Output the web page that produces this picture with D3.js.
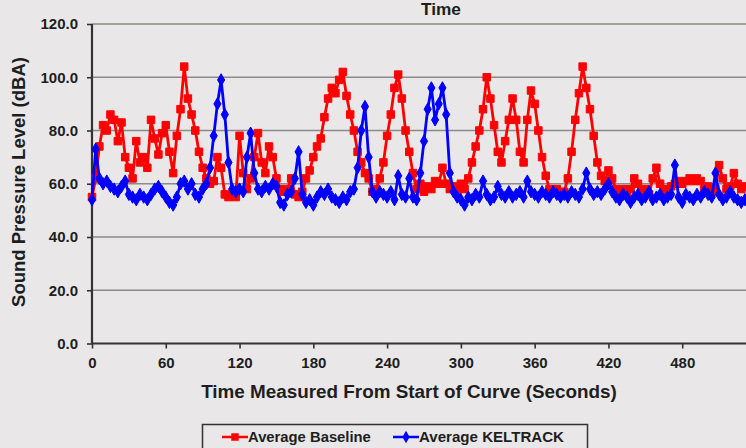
<!DOCTYPE html>
<html>
<head>
<meta charset="utf-8">
<script src="https://cdn.jsdelivr.net/npm/d3@7"></script>
<style>
  html, body { margin: 0; padding: 0; background: #e9e7e7; overflow: hidden; }
  svg { display: block; font-family: "Liberation Sans", Arial, sans-serif; }
</style>
</head>
<body>
<svg id="chart" width="746" height="448"></svg>
<script>
// ---- data (3-second sampling) ----
const timeStep = 3;
const baseline = [
  55,62,74,82,80,86,84,76,83,70,66,62,76,68,70,66,84,77,71,79,
  82,72,64,78,88,104,92,86,80,72,66,62,60,61,70,66,56,55,56,55,
  78,64,58,62,70,79,68,64,74,70,62,58,57,58,62,56,55,57,62,65,
  70,74,77,85,92,96,94,99,102,93,86,80,72,68,64,62,57,58,62,68,
  78,86,96,101,92,80,72,64,58,60,57,59,58,61,60,66,60,58,59,57,
  60,58,62,68,74,80,88,100,92,82,72,68,76,84,92,84,72,68,84,95,
  90,80,70,63,58,57,58,56,57,62,72,84,94,104,96,88,78,68,63,61,
  65,62,58,57,58,56,58,62,60,57,58,56,62,66,60,58,57,59,60,61,
  60,61,62,61,62,61,58,59,57,58,67,62,58,59,64,60,58,59
];
const keltrack = [
  54,73,62,60,61,59,58,57,59,61,56,55,54,56,55,54,56,58,59,57,
  55,53,52,55,60,61,58,60,56,55,58,60,66,78,90,99,86,68,58,57,
  58,57,70,79,64,58,57,59,58,60,59,53,52,56,57,62,72,56,53,54,
  52,55,57,56,58,55,54,53,55,54,57,58,66,80,89,70,57,55,57,56,
  55,57,54,63,56,55,62,55,54,64,76,88,96,84,90,96,86,64,57,55,
  54,52,55,54,56,55,61,56,54,55,59,56,55,57,55,56,57,55,61,57,
  56,55,57,56,55,57,56,55,56,55,57,56,55,58,64,58,56,57,56,58,
  60,57,55,54,56,55,53,55,56,54,55,57,54,55,56,54,55,56,67,55,
  53,56,55,54,56,55,57,56,55,64,56,54,55,57,55,54,53,54
];
const seriesNames = ["Average Baseline", "Average KELTRACK"];
const seriesColors = ["#ff0000", "#0000ff"];
const yTicks = [0, 20, 40, 60, 80, 100, 120];
const xTicks = [0, 60, 120, 180, 240, 300, 360, 420, 480];
const chartTitle = "Time";
const yLabel = "Sound Pressure Level (dBA)";
const xLabel = "Time Measured From Start of Curve (Seconds)";

// ---- layout ----
const svg = d3.select("#chart");
const plotLeft = 92, plotRight = 756, plotTop = 24, plotBottom = 343.5;
const x = d3.scaleLinear().domain([0, 540]).range([plotLeft, plotRight]);
const y = d3.scaleLinear().domain([0, 120]).range([plotBottom, plotTop]);
const textColor = "#1e1e1e";

svg.append("rect").attr("width", 746).attr("height", 448).attr("fill", "#e9e7e7");

function fitWidth(sel, target) {
  const w = sel.node().getComputedTextLength();
  const fs = parseFloat(sel.attr("font-size"));
  sel.attr("font-size", fs * target / w);
}

// title
const t = svg.append("text").attr("x", 441).attr("y", 15)
  .attr("text-anchor", "middle").attr("font-size", 16).attr("font-weight", "bold")
  .attr("fill", textColor).text(chartTitle);
fitWidth(t, 40);

// gridlines
svg.append("g").selectAll("line").data(yTicks.filter(d => d > 0)).join("line")
  .attr("x1", plotLeft).attr("x2", plotRight)
  .attr("y1", d => y(d)).attr("y2", d => y(d))
  .attr("stroke", "#8c8a8a").attr("stroke-width", 1.3);

// axes
const yAxis = d3.axisLeft(y).tickValues(yTicks).tickSize(5).tickFormat(d3.format(".1f"));
const gy = svg.append("g").attr("transform", `translate(${plotLeft},0)`).call(yAxis);
const xAxis = d3.axisBottom(x).tickValues(xTicks).tickSize(5).tickFormat(d3.format("d"));
const gx = svg.append("g").attr("transform", `translate(0,${plotBottom})`).call(xAxis);
[gx, gy].forEach(g => {
  g.attr("font-size", null).attr("font-family", null);
  g.select(".domain").attr("stroke", "#333").attr("stroke-width", 2.2);
  g.selectAll(".tick line").attr("stroke", "#333").attr("stroke-width", 1.6);
  g.selectAll(".tick text").attr("fill", textColor)
    .style("font-size", "15px").style("font-weight", "bold")
    .style("font-family", "Liberation Sans, Arial, sans-serif");
});
gy.selectAll(".tick text").attr("x", -14);
gx.selectAll(".tick text").attr("y", 14);
gx.select(".domain").attr("d", `M${plotLeft},0H${plotRight}`);
gy.select(".domain").attr("d", `M0,${plotTop}V${plotBottom}`);

// axis labels
const yl = svg.append("text").attr("transform", `translate(25,182) rotate(-90)`)
  .attr("text-anchor", "middle").attr("font-size", 15).attr("font-weight", "bold")
  .attr("fill", textColor).text(yLabel);
fitWidth(yl, 250);
const xl = svg.append("text").attr("x", 409).attr("y", 398)
  .attr("text-anchor", "middle").attr("font-size", 16).attr("font-weight", "bold")
  .attr("fill", textColor).text(xLabel);
fitWidth(xl, 416);

// series
const allSeries = [baseline, keltrack];
const line = d3.line().x((d, i) => x(i * timeStep)).y(d => y(d));
const symbols = [d3.symbolSquare, d3.symbolDiamond];
const symSizes = [56, 44];
allSeries.forEach((vals, k) => {
  const g = svg.append("g");
  g.append("path").datum(vals).attr("d", line)
    .attr("fill", "none").attr("stroke", seriesColors[k]).attr("stroke-width", 2.8)
    .attr("stroke-linejoin", "round");
  g.selectAll("path.m").data(vals).join("path").attr("class", "m")
    .attr("transform", (d, i) => `translate(${x(i * timeStep)},${y(d)})`)
    .attr("d", d3.symbol(symbols[k], symSizes[k]))
    .attr("fill", seriesColors[k]).attr("stroke", seriesColors[k]).attr("stroke-width", 1);
});

// legend
const lg = svg.append("g");
lg.append("rect").attr("x", 202.5).attr("y", 424.5).attr("width", 385).attr("height", 30)
  .attr("fill", "none").attr("stroke", "#333").attr("stroke-width", 1.5);
const legendX = [222, 393];
const legendTextW = [123, 145];
seriesNames.forEach((name, k) => {
  const lx = legendX[k], ly = 437;
  lg.append("line").attr("x1", lx).attr("x2", lx + 26).attr("y1", ly).attr("y2", ly)
    .attr("stroke", seriesColors[k]).attr("stroke-width", 2.5);
  lg.append("path").attr("transform", `translate(${lx + 13},${ly})`)
    .attr("d", d3.symbol(symbols[k], symSizes[k])).attr("fill", seriesColors[k]);
  const tx = lg.append("text").attr("x", lx + 26).attr("y", ly + 5)
    .attr("font-size", 14).attr("font-weight", "bold").attr("fill", textColor).text(name);
  fitWidth(tx, legendTextW[k]);
});
</script>
</body>
</html>
